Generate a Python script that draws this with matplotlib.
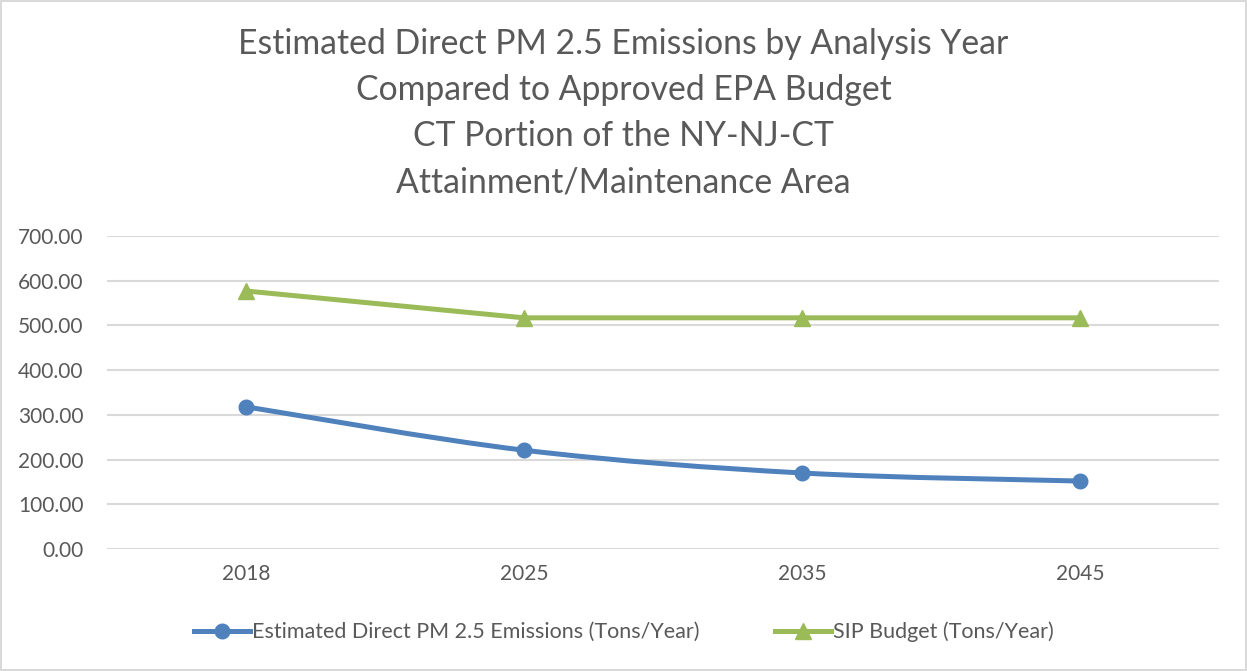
import numpy as np
import matplotlib.pyplot as plt
from matplotlib.path import Path
from matplotlib.patches import PathPatch
from matplotlib.lines import Line2D

plt.rcParams['font.family'] = ['Lato', 'DejaVu Sans']

years = ['2018', '2025', '2035', '2045']
emissions = [318, 221, 170, 152]
sip_budget = [577, 517, 517, 517]
yticks = [0, 100, 200, 300, 400, 500, 600, 700]

blue = '#4f81bd'
green = '#9bbb59'
grey = '#595959'


def smooth_path(xs, ys, t=1/6):
    # excel-like smoothed line: bezier segments through the points
    pts = np.column_stack([xs, ys]).astype(float)
    verts = [pts[0]]
    codes = [Path.MOVETO]
    n = len(pts)
    for i in range(n - 1):
        p0 = pts[i - 1] if i > 0 else pts[i]
        p1 = pts[i]
        p2 = pts[i + 1]
        p3 = pts[i + 2] if i + 2 < n else pts[i + 1]
        c1 = p1 + (p2 - p0) * t
        c2 = p2 - (p3 - p1) * t
        verts += [c1, c2, p2]
        codes += [Path.CURVE4] * 3
    return Path(verts, codes)


fig = plt.figure(figsize=(12.47, 6.71), dpi=100)
fig.patch.set_edgecolor('#d9d9d9')
fig.patch.set_linewidth(1.5)
ax = fig.add_axes([107 / 1247, 1 - 549 / 671, 1112 / 1247, 313 / 671])

x = np.arange(len(years))
ax.add_patch(PathPatch(smooth_path(x, emissions), fill=False, edgecolor=blue,
                       lw=3.6, capstyle='round', zorder=3))
ax.plot(x, emissions, linestyle='none', marker='o', markersize=10.5, color=blue, zorder=4)
ax.plot(x, sip_budget, color=green, lw=3.6, marker='^', markersize=11, zorder=3)

ax.set_xlim(-0.5, 3.5)
ax.set_ylim(0, 700)
ax.set_xticks(x)
ax.set_xticklabels(years)
ax.set_yticks(yticks)
ax.set_yticklabels(['%.2f' % v for v in yticks])
ax.tick_params(length=0, labelsize=15, colors=grey)
ax.tick_params(axis='y', pad=17)
ax.tick_params(axis='x', pad=11)
ax.grid(axis='y', color='#d9d9d9', lw=1.5)
ax.set_axisbelow(True)
for s in ax.spines.values():
    s.set_visible(False)

fig.text(0.5, 1 - 113 / 671, 'Estimated Direct PM 2.5 Emissions by Analysis Year\n'
         'Compared to Approved EPA Budget\nCT Portion of the NY-NJ-CT\n'
         'Attainment/Maintenance Area', ha='center', va='center', fontsize=24.3,
         color=grey, linespacing=1.55)

handles = [Line2D([], [], color=blue, lw=3.6, marker='o', markersize=10.5),
           Line2D([], [], color=green, lw=3.6, marker='^', markersize=11)]
fig.legend(handles, ['Estimated Direct PM 2.5 Emissions (Tons/Year)', 'SIP Budget (Tons/Year)'],
           loc='center', bbox_to_anchor=(0.5, 1 - 632 / 671), ncol=2, frameon=False,
           fontsize=15.5, labelcolor=grey, handlelength=2.6, handletextpad=0.1,
           columnspacing=3.5)

fig.savefig('out.png', dpi=100)
